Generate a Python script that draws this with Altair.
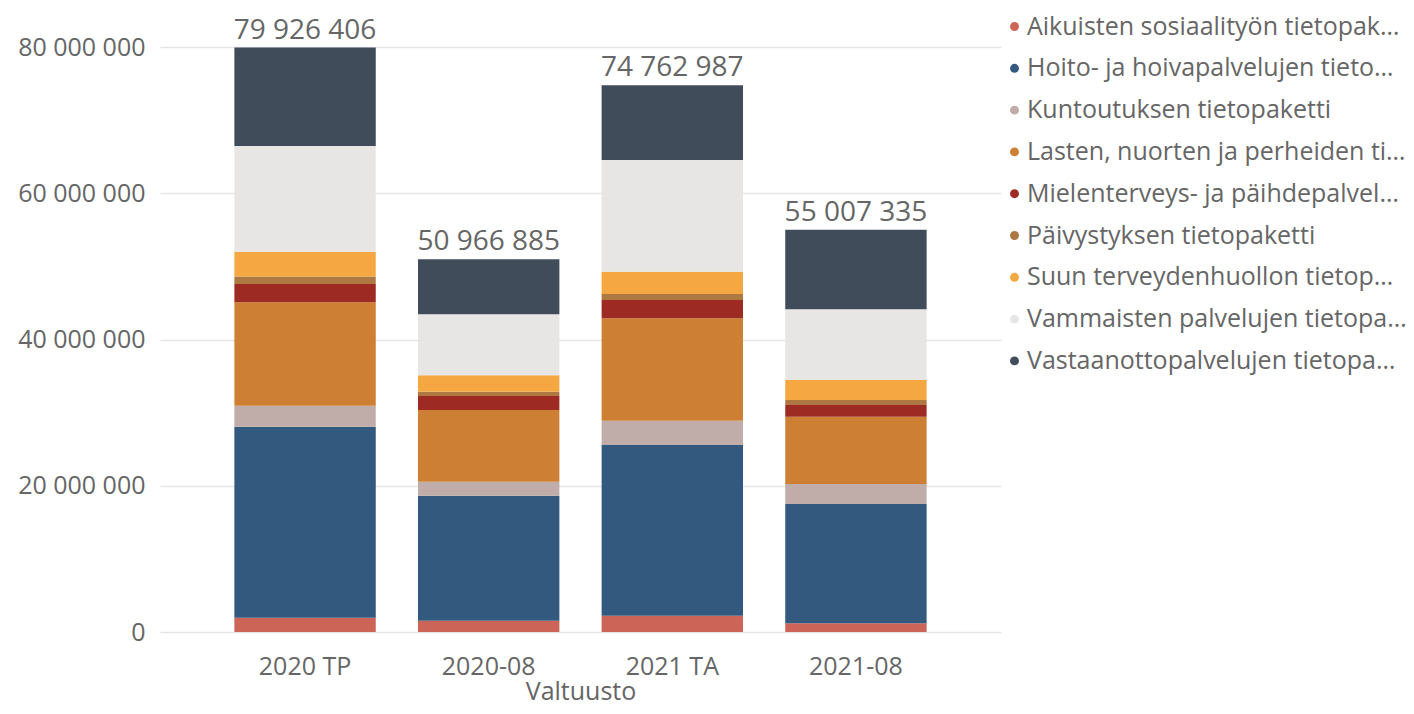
import altair as alt
import pandas as pd

categories = ["2020 TP", "2020-08", "2021 TA", "2021-08"]
series = [
    "Aikuisten sosiaalityön tietopaketti",
    "Hoito- ja hoivapalvelujen tietopaketti",
    "Kuntoutuksen tietopaketti",
    "Lasten, nuorten ja perheiden tietopaketti",
    "Mielenterveys- ja päihdepalvelujen tietopaketti",
    "Päivystyksen tietopaketti",
    "Suun terveydenhuollon tietopaketti",
    "Vammaisten palvelujen tietopaketti",
    "Vastaanottopalvelujen tietopaketti",
]
colors = ["#CC6458", "#335A7E", "#C0ACA8", "#CD8033", "#9E2B23",
          "#AE7843", "#F5A742", "#E8E6E4", "#404C5A"]

aikuisten = [1960000, 1550000, 2230000, 1190000]
hoito = [26120000, 17090000, 23340000, 16310000]
kuntoutus = [2870000, 1920000, 3330000, 2740000]
lasten = [14130000, 9800000, 14000000, 9200000]
mielenterveys = [2510000, 1910000, 2500000, 1600000]
paivystys = [1010000, 600000, 820000, 690000]
suun = [3400000, 2230000, 3050000, 2730000]
vammaisten = [14460000, 8340000, 15280000, 9670000]
totals = [79926406, 50966885, 74762987, 55007335]

values = [aikuisten, hoito, kuntoutus, lasten, mielenterveys, paivystys, suun, vammaisten]
rows = []
for i, cat in enumerate(categories):
    partial = 0
    for k, v in enumerate(values):
        rows.append({"cat": cat, "series": series[k], "value": v[i], "ord": k})
        partial += v[i]
    rows.append({"cat": cat, "series": series[-1], "value": totals[i] - partial, "ord": 8})
df = pd.DataFrame(rows)

tot_df = pd.DataFrame({
    "cat": categories,
    "total": totals,
    "label": [f"{t:,}".replace(",", " ") for t in totals],
})

FONT = "Open Sans"
GRAY = "#666666"
FS = 25

x = alt.X("cat:N", sort=categories, title="Valtuusto",
          scale=alt.Scale(paddingInner=0.23, paddingOuter=0.405),
          axis=alt.Axis(labelAngle=0, domain=False, ticks=False, labelPadding=22,
                        labelFontSize=FS, labelColor=GRAY, labelFont=FONT,
                        titleFontSize=FS, titleColor=GRAY, titleFont=FONT,
                        titleFontWeight="normal", titlePadding=0))

bars = alt.Chart(df).mark_bar().encode(
    x=x,
    y=alt.Y("value:Q", stack="zero", title=None,
            scale=alt.Scale(domain=[0, 80000000], nice=False),
            axis=alt.Axis(values=[0, 20000000, 40000000, 60000000, 80000000],
                          domain=False, ticks=False, labelPadding=15,
                          labelFontSize=FS, labelColor=GRAY, labelFont=FONT,
                          gridColor="#E6E6E6", gridWidth=1.5,
                          labelExpr="replace(format(datum.value, ','), /,/g, ' ')")),
    color=alt.Color("series:N", sort=series,
                    scale=alt.Scale(domain=series, range=colors),
                    legend=alt.Legend(title=None, orient="none", legendX=842, legendY=-33,
                                      symbolType="circle", symbolSize=80,
                                      labelFontSize=FS, labelColor=GRAY, labelFont=FONT,
                                      labelLimit=380, rowPadding=15.8, symbolStrokeWidth=0,
                                      padding=0, labelOffset=0)),
    order=alt.Order("ord:Q", sort="ascending"),
)

text = alt.Chart(tot_df).mark_text(baseline="alphabetic", dy=-9, fontSize=28,
                                   color=GRAY, font=FONT).encode(
    x=alt.X("cat:N", sort=categories),
    y=alt.Y("total:Q"),
    text="label:N",
)

chart = alt.layer(bars, text).properties(
    width=841, height=585,
    padding={"left": 152, "top": 39, "right": 405, "bottom": 74},
    autosize=alt.AutoSizeParams(type="none"),
).configure(font=FONT, view=alt.ViewConfig(stroke=None))

chart.save("out.html", embed_options={"renderer": "svg", "actions": False})
